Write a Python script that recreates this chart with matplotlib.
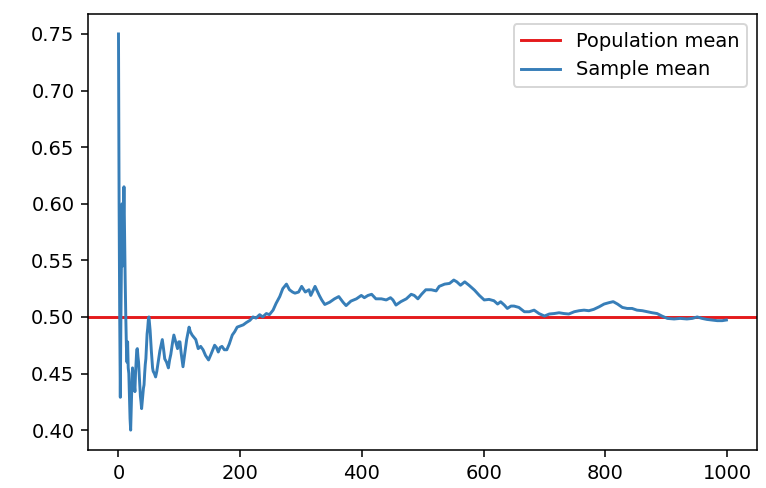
import numpy as np
import matplotlib
matplotlib.use("Agg")
import matplotlib.pyplot as plt

# values
sample_x = [0, 1, 2, 3, 4, 5, 6, 7, 8, 9, 10, 11, 12, 13, 14, 15, 16, 17, 18, 19,
            20, 21, 22, 23, 24, 25, 26, 27, 28, 29, 30, 31, 32, 33, 34, 35, 36, 37, 38, 39,
            40, 41, 42, 43, 44, 45, 46, 47, 48, 49, 50, 52, 54, 56, 57, 59, 61, 63, 65, 68,
            72, 74, 76, 79, 82, 84, 86, 89, 91, 94, 97, 99, 101, 103, 106, 109, 112, 116, 118, 121,
            124, 127, 131, 135, 139, 143, 148, 152, 158, 161, 164, 167, 170, 174, 178, 182, 187, 191, 195, 200,
            205, 210, 216, 221, 226, 232, 237, 243, 248, 254, 259, 265, 270, 276, 281, 286, 290, 296, 301, 307,
            313, 316, 323, 330, 334, 339, 347, 355, 362, 369, 374, 382, 391, 399, 404, 410, 416, 423, 432, 440,
            447, 451, 456, 464, 473, 481, 486, 492, 498, 505, 514, 522, 527, 536, 544, 551, 556, 562, 569, 576,
            585, 593, 601, 609, 617, 623, 628, 634, 639, 645, 650, 658, 667, 675, 683, 691, 700, 708, 716, 724,
            732, 740, 749, 757, 765, 773, 781, 790, 798, 806, 813, 820, 828, 836, 844, 852, 861, 869, 877, 885,
            893, 902, 913, 923, 934, 943, 951, 959, 967, 975, 984, 992, 999]
sample_mean = [0.750, 0.600, 0.500, 0.429, 0.500, 0.556, 0.600, 0.545, 0.583, 0.615,
               0.571, 0.533, 0.500, 0.474, 0.460, 0.478, 0.455, 0.450, 0.430, 0.410,
               0.400, 0.420, 0.440, 0.455, 0.449, 0.445, 0.440, 0.434, 0.450, 0.460,
               0.471, 0.472, 0.465, 0.460, 0.450, 0.440, 0.430, 0.425, 0.419, 0.425,
               0.432, 0.437, 0.440, 0.450, 0.458, 0.463, 0.475, 0.485, 0.490, 0.497,
               0.500, 0.488, 0.470, 0.455, 0.452, 0.450, 0.447, 0.452, 0.459, 0.470,
               0.480, 0.472, 0.463, 0.460, 0.455, 0.462, 0.467, 0.478, 0.484, 0.478,
               0.472, 0.478, 0.478, 0.468, 0.456, 0.468, 0.480, 0.491, 0.487, 0.484,
               0.482, 0.480, 0.472, 0.474, 0.471, 0.466, 0.462, 0.467, 0.475, 0.473,
               0.469, 0.473, 0.474, 0.471, 0.471, 0.476, 0.484, 0.487, 0.491, 0.492,
               0.493, 0.495, 0.497, 0.500, 0.499, 0.502, 0.500, 0.503, 0.502, 0.506,
               0.512, 0.518, 0.525, 0.529, 0.524, 0.522, 0.521, 0.522, 0.527, 0.522,
               0.524, 0.519, 0.527, 0.519, 0.515, 0.511, 0.513, 0.516, 0.518, 0.513,
               0.510, 0.514, 0.516, 0.519, 0.517, 0.519, 0.520, 0.516, 0.516, 0.515,
               0.517, 0.515, 0.5105, 0.5135, 0.516, 0.520, 0.519, 0.516, 0.520, 0.524,
               0.524, 0.523, 0.527, 0.529, 0.5296, 0.5326, 0.531, 0.528, 0.531, 0.528,
               0.5237, 0.519, 0.515, 0.5155, 0.5143, 0.5114, 0.5134, 0.5105, 0.5075, 0.5096,
               0.5096, 0.5084, 0.5046, 0.5046, 0.506, 0.503, 0.5008, 0.5026, 0.503, 0.5037,
               0.503, 0.5026, 0.5046, 0.5055, 0.506, 0.5055, 0.5067, 0.509, 0.5114, 0.5126,
               0.5135, 0.5114, 0.5084, 0.5075, 0.5075, 0.506, 0.5055, 0.5046, 0.5037, 0.503,
               0.5008, 0.4987, 0.4982, 0.4987, 0.4982, 0.4987, 0.500, 0.4987, 0.4978, 0.4973,
               0.4967, 0.4967, 0.4973]
population_mean = 0.5

fig = plt.figure(figsize=(766 / 140, 488 / 140), dpi=140)
ax = fig.add_axes([0.115, 0.078, 0.873, 0.893])
ax.axhline(population_mean, color="#e41a1c", label="Population mean")
ax.plot(sample_x, sample_mean, color="#377eb8", label="Sample mean")
ax.legend()
fig.savefig("out.png", dpi=140)
